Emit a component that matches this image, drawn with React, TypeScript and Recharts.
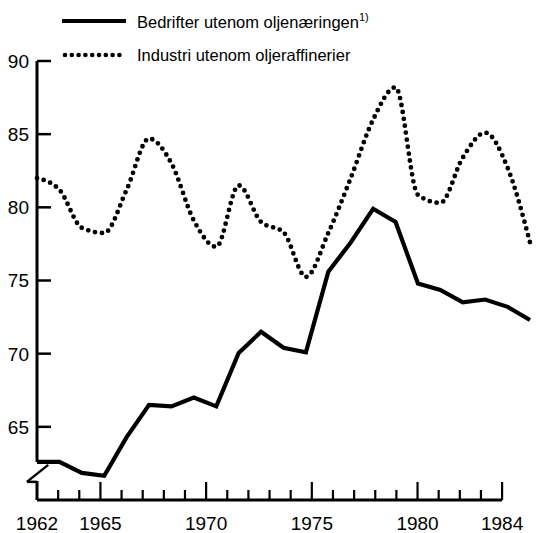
import { LineChart, Line, XAxis, YAxis, ReferenceLine } from 'recharts'

const years = [
  1962, 1963, 1964, 1965, 1966, 1967, 1968, 1969, 1970, 1971, 1972, 1973,
  1974, 1975, 1976, 1977, 1978, 1979, 1980, 1981, 1982, 1983, 1984,
]

// Bedrifter utenom oljenæringen
const bedrifter = [
  62.6, 62.6, 61.85, 61.65, 64.3, 66.5, 66.4, 67.0, 66.4, 70.05, 71.5, 70.4,
  70.1, 75.6, 77.6, 79.9, 79.0, 74.8, 74.35, 73.5, 73.7, 73.2, 72.3,
]

// Industri utenom oljeraffinerier
const industri = [
  82.0, 81.2, 78.6, 78.25, 81.2, 84.7, 83.0, 79.1, 77.3, 81.5, 79.0, 78.3,
  75.25, 78.25, 82.0, 86.0, 88.2, 80.85, 80.3, 83.4, 85.1, 82.7, 77.6,
]

const yTicks = [65, 70, 75, 80, 85, 90]
const labeledYears = [1962, 1965, 1970, 1975, 1980, 1984]
const majorYears = [1965, 1970, 1975, 1980, 1984]

const legendItems = [
  { name: 'Bedrifter utenom oljenæringen', note: '1)', dotted: false },
  { name: 'Industri utenom oljeraffinerier', note: '', dotted: true },
]

const FONT = '"Liberation Sans", Arial, Helvetica, sans-serif'

const data = years.map((year, i) => ({
  year,
  bedrifter: bedrifter[i],
  industri: industri[i],
}))

function YTick({ x, y, payload }: any) {
  return (
    <g>
      <line x1={x} x2={x + 14} y1={y} y2={y} stroke="#000" strokeWidth={2.5} />
      <text x={x - 8} y={y} dy="0.36em" textAnchor="end" fontSize={19} fontFamily={FONT} fill="#000">
        {payload.value}
      </text>
    </g>
  )
}

function XTick({ x, y, payload }: any) {
  const v = payload.value
  const major = majorYears.includes(v)
  return (
    <g>
      {v !== 1962 && (
        <line x1={x} x2={x} y1={y} y2={y - (major ? 18 : 10)} stroke="#000" strokeWidth={2.2} />
      )}
      {labeledYears.includes(v) && (
        <text x={x} y={y + 30} textAnchor="middle" fontSize={19} fontFamily={FONT} fill="#000">
          {v}
        </text>
      )}
    </g>
  )
}

function ChartLegend() {
  return (
    <div style={{ position: 'absolute', left: 62, top: 10, fontFamily: FONT, fontSize: 16.5, color: '#000' }}>
      {legendItems.map((item, i) => (
        <div key={item.name} style={{ display: 'flex', alignItems: 'center', height: 22, marginBottom: i === 0 ? 12 : 0 }}>
          <svg width={66} height={10} style={{ marginRight: 9 }}>
            {item.dotted ? (
              <line x1={3} x2={64} y1={5} y2={5} stroke="#000" strokeWidth={4.6} strokeDasharray="0 6.8" strokeLinecap="round" />
            ) : (
              <line x1={0} x2={64} y1={5} y2={5} stroke="#000" strokeWidth={4} />
            )}
          </svg>
          <span>
            {item.name}
            {item.note && <sup style={{ fontSize: 11 }}>{item.note}</sup>}
          </span>
        </div>
      ))}
    </div>
  )
}

export default function App() {
  return (
    <div style={{ position: 'absolute', left: 0, top: 0, width: 552, height: 533, background: '#fff' }}>
      <LineChart width={552} height={533} data={data} margin={{ top: 61, right: 22, bottom: 0, left: 0 }}>
        <XAxis
          xAxisId="ticks"
          dataKey="year"
          type="number"
          domain={[1962, 1985.32]}
          ticks={years}
          interval={0}
          height={33}
          axisLine={false}
          tickLine={false}
          tickSize={0}
          tickMargin={0}
          tick={<XTick />}
          allowDataOverflow
        />
        <XAxis xAxisId="data" dataKey="year" type="number" domain={[1962, 1984]} height={0} hide />
        <YAxis
          yAxisId="y"
          type="number"
          domain={[60, 90]}
          ticks={yTicks}
          width={37}
          axisLine={false}
          tickLine={false}
          tickSize={0}
          tickMargin={0}
          tick={<YTick />}
          allowDataOverflow
        />

        {/* x axis line, ends at the 1984 tick */}
        <ReferenceLine
          xAxisId="ticks"
          yAxisId="y"
          segment={[{ x: 1962, y: 60 }, { x: 1984, y: 60 }]}
          stroke="#000"
          strokeWidth={3}
          ifOverflow="visible"
        />
        {/* y axis line with a break near the bottom */}
        <ReferenceLine
          xAxisId="data"
          yAxisId="y"
          segment={[{ x: 1962, y: 90 }, { x: 1962, y: 62.6 }]}
          stroke="#000"
          strokeWidth={3}
          ifOverflow="visible"
        />
        <ReferenceLine
          xAxisId="data"
          yAxisId="y"
          segment={[{ x: 1962.5, y: 62.4 }, { x: 1961.55, y: 61.24 }]}
          stroke="#000"
          strokeWidth={2.5}
          ifOverflow="visible"
        />
        <ReferenceLine
          xAxisId="data"
          yAxisId="y"
          segment={[{ x: 1961.55, y: 61.24 }, { x: 1962, y: 61.24 }]}
          stroke="#000"
          strokeWidth={2.5}
          ifOverflow="visible"
        />
        <ReferenceLine
          xAxisId="data"
          yAxisId="y"
          segment={[{ x: 1962, y: 61.3 }, { x: 1962, y: 60 }]}
          stroke="#000"
          strokeWidth={3}
          ifOverflow="visible"
        />

        <Line
          xAxisId="data"
          yAxisId="y"
          type="monotone"
          dataKey="industri"
          stroke="#000"
          strokeWidth={4.8}
          strokeDasharray="0 7"
          strokeLinecap="round"
          dot={false}
          isAnimationActive={false}
        />
        <Line
          xAxisId="data"
          yAxisId="y"
          type="linear"
          dataKey="bedrifter"
          stroke="#000"
          strokeWidth={4.2}
          dot={false}
          isAnimationActive={false}
        />
      </LineChart>
      <ChartLegend />
    </div>
  )
}
